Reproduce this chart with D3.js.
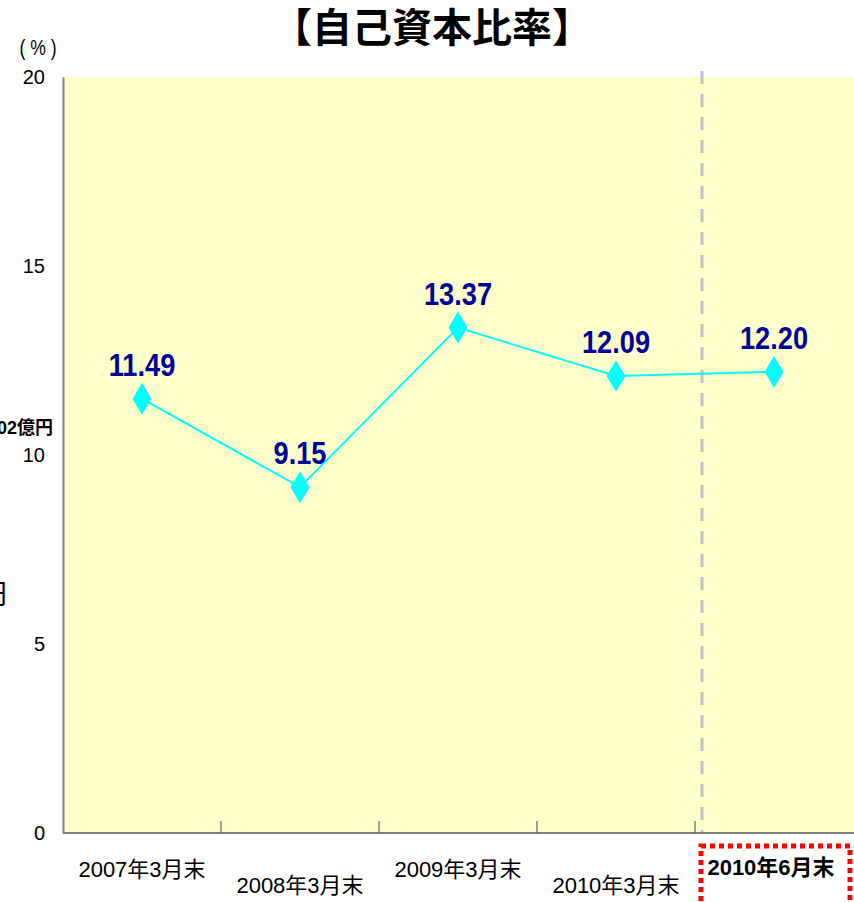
<!DOCTYPE html>
<html>
<head>
<meta charset="utf-8">
<script src="https://cdn.jsdelivr.net/npm/d3@7"></script>
<style>
  body { margin: 0; background: #fff; }
  svg { display: block; font-family: "Liberation Sans", Arial, "Noto Sans CJK JP", sans-serif; }
</style>
</head>
<body>
<div class="chart"></div>
<script>
"use strict";

var categories = ["2007年3月末", "2008年3月末", "2009年3月末", "2010年3月末", "2010年6月末"];
var ratios = [11.49, 9.15, 13.37, 12.09, 12.20];
var yTicks = [0, 5, 10, 15, 20];

var width = 854,
    height = 902;

var svg = d3.select(".chart")
          .append("svg")
          .attr("width", width)
          .attr("height", height);

var x = d3.scaleBand()
    .domain(categories)
    .range([63, 853])
    .padding(0);

var y = d3.scaleLinear()
    .domain([0, 20])
    .range([833, 77]);

// plot background
svg.append("rect")
    .attr("x", 63)
    .attr("y", y(20))
    .attr("width", width - 63)
    .attr("height", y(0) - y(20))
    .attr("fill", "#ffffcc");

// leftover text clipped at the left edge
svg.append("text")
    .attr("x", 53).attr("y", 434)
    .attr("text-anchor", "end")
    .style("font-size", "18px").style("font-weight", "bold")
    .text("1,302億円");
svg.append("text")
    .attr("x", -21).attr("y", 604)
    .style("font-size", "28px")
    .text("円");
svg.append("text")
    .attr("x", -21).attr("y", 925)
    .style("font-size", "28px").style("font-weight", "bold")
    .text("円");

// title
svg.append("text")
    .attr("x", 432).attr("y", 42)
    .attr("text-anchor", "middle")
    .style("font-size", "40px").style("font-weight", "bold")
    .style("font-family", "'Noto Sans CJK JP', sans-serif")
    .text("【自己資本比率】");

svg.append("text")
    .attr("transform", "translate(38,55) scale(0.8,1)")
    .attr("text-anchor", "middle")
    .style("font-size", "22px")
    .text("( % )");

// dashed divider before the latest quarter
var divX = x(categories[4]) + 7;
svg.append("line")
    .attr("x1", divX).attr("x2", divX)
    .attr("y1", 71).attr("y2", y(0))
    .style("stroke", "#c0c0c8")
    .style("stroke-width", 3)
    .style("stroke-dasharray", "13,10");

// y axis
var yAxis = svg.append("g")
    .attr("transform", "translate(63,0)")
    .call(d3.axisLeft(y).tickValues(yTicks).tickSize(0).tickPadding(18));
yAxis.select(".domain").attr("stroke", "#808080").attr("stroke-width", 2);
yAxis.selectAll("text")
    .attr("fill", "#000")
    .style("font-size", "20px")
    .style("font-family", "'Liberation Sans', Arial, sans-serif");

// x axis line + category separators
svg.append("line")
    .attr("x1", 63).attr("x2", width)
    .attr("y1", y(0)).attr("y2", y(0))
    .style("stroke", "#808080").style("stroke-width", 2);

svg.append("g")
    .selectAll("line")
    .data(categories.slice(1))
    .enter().append("line")
        .attr("x1", function(d){ return x(d); })
        .attr("x2", function(d){ return x(d); })
        .attr("y1", y(0) - 12)
        .attr("y2", y(0))
        .style("stroke", "#606060")
        .style("stroke-width", 1.2);

// category labels, staggered
svg.append("g")
    .selectAll("text")
    .data(categories)
    .enter().append("text")
        .attr("x", function(d, i){ return x(d) + x.bandwidth() / 2 - (i === 4 ? 3 : 0); })
        .attr("y", function(d, i){ return i === 4 ? 875 : (i % 2 === 0 ? 877 : 893); })
        .attr("text-anchor", "middle")
        .style("font-size", "22px")
        .style("font-weight", function(d, i){ return i === 4 ? "bold" : "normal"; })
        .text(function(d){ return d; });

// red dotted highlight box
svg.append("rect")
    .attr("x", 701)
    .attr("y", 846)
    .attr("width", 149)
    .attr("height", 90)
    .attr("fill", "none")
    .style("stroke", "#ff0000")
    .style("stroke-width", 5)
    .style("stroke-dasharray", "5,4");

// series line
var line = d3.line()
    .x(function(d, i){ return x(categories[i]) + x.bandwidth() / 2; })
    .y(function(d){ return y(d); });

svg.append("path")
    .datum(ratios)
    .attr("d", line)
    .attr("fill", "none")
    .style("stroke", "#00ffff")
    .style("stroke-width", 2);

// diamond markers
svg.append("g")
    .selectAll("path")
    .data(ratios)
    .enter().append("path")
        .attr("transform", function(d, i){
          return "translate(" + (x(categories[i]) + x.bandwidth() / 2) + "," + y(d) + ")";
        })
        .attr("d", "M0,-16L9.5,0L0,16L-9.5,0Z")
        .attr("fill", "#00ffff");

// value labels
svg.append("g")
    .selectAll("text")
    .data(ratios)
    .enter().append("text")
        .attr("transform", function(d, i){
          return "translate(" + (x(categories[i]) + x.bandwidth() / 2) + "," + (y(d) - 23) + ") scale(0.85,1)";
        })
        .attr("text-anchor", "middle")
        .attr("fill", "#000099")
        .style("font-size", "32px")
        .style("font-weight", "bold")
        .text(function(d){ return d.toFixed(2); });
</script>
</body>
</html>
